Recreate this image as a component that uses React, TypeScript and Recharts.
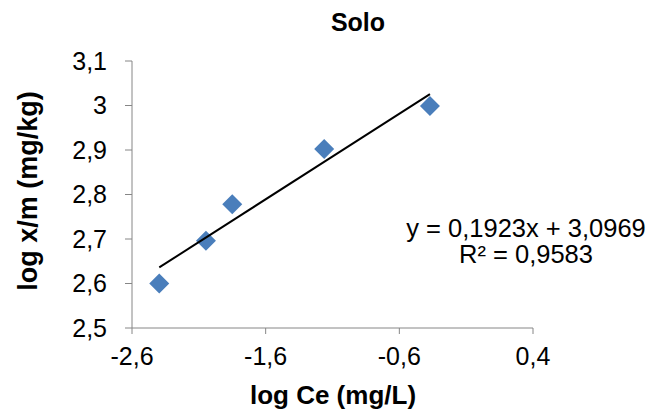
import { ComposedChart, Scatter, XAxis, YAxis } from 'recharts';

// log Ce (mg/L) vs log x/m (mg/kg)
const logCe = [-2.396, -2.047, -1.85, -1.162, -0.371];
const logXm = [2.6, 2.696, 2.778, 2.902, 2.999];

const xTicks = [-2.6, -1.6, -0.6, 0.4];
const yTicks = [2.5, 2.6, 2.7, 2.8, 2.9, 3.0, 3.1];

// linear fit reported on the chart
const slope = 0.1923;
const intercept = 3.0969;
const r2 = 0.9583;

const points = logCe.map((x, i) => ({ x, y: logXm[i] }));
const xMin = Math.min(...logCe);
const xMax = Math.max(...logCe);
const trend = [xMin, xMax].map((x) => ({ x, y: slope * x + intercept }));

const font = '"Liberation Sans", Arial, sans-serif';
const comma = (v: number) => String(Math.round(v * 10) / 10).replace('.', ',');
const num4 = (v: number) => v.toFixed(4).replace('.', ',');

const Diamond = (props: any) => {
  const { cx, cy } = props;
  const r = 10;
  return (
    <polygon
      points={`${cx},${cy - r} ${cx + r},${cy} ${cx},${cy + r} ${cx - r},${cy}`}
      fill="#4A7EBB"
    />
  );
};

export default function App() {
  return (
    <div style={{ position: 'absolute', left: 0, top: 0, width: 651, height: 412, background: '#fff', fontFamily: font }}>
      <ComposedChart width={651} height={412} margin={{ top: 61, right: 118, bottom: 0, left: 0 }}>
        <XAxis
          type="number"
          dataKey="x"
          domain={[-2.6, 0.4]}
          ticks={xTicks}
          tickFormatter={comma}
          height={84}
          stroke="#868686"
          tickSize={6}
          tick={{ fill: '#000', fontSize: 25, fontFamily: font }}
          tickMargin={13}
          allowDataOverflow
        />
        <YAxis
          type="number"
          dataKey="y"
          domain={[2.5, 3.1]}
          ticks={yTicks}
          tickFormatter={comma}
          width={132}
          stroke="#868686"
          tickSize={7}
          tick={{ fill: '#000', fontSize: 25, fontFamily: font }}
          tickMargin={18}
          allowDataOverflow
        />
        <Scatter data={points} shape={Diamond} isAnimationActive={false} />
        <Scatter
          data={trend}
          line={{ stroke: '#000', strokeWidth: 2 }}
          shape={() => <g />}
          isAnimationActive={false}
        />
      </ComposedChart>
      <div style={{ position: 'absolute', left: 258, top: 8, width: 200, textAlign: 'center', fontWeight: 'bold', fontSize: 25 }}>
        Solo
      </div>
      <div style={{ position: 'absolute', left: 183, top: 382, width: 300, textAlign: 'center', fontWeight: 'bold', fontSize: 26, lineHeight: '26px' }}>
        log Ce (mg/L)
      </div>
      <div
        style={{
          position: 'absolute',
          left: 28,
          top: 191,
          width: 300,
          textAlign: 'center',
          fontWeight: 'bold',
          fontSize: 27,
          lineHeight: '30px',
          transform: 'translate(-50%, -50%) rotate(-90deg)',
        }}
      >
        log x/m (mg/kg)
      </div>
      <div style={{ position: 'absolute', left: 376, top: 215, width: 300, textAlign: 'center', fontSize: 25.5, lineHeight: '26px' }}>
        y = {num4(slope)}x + {num4(intercept)}
        <br />
        R² = {num4(r2)}
      </div>
    </div>
  );
}
